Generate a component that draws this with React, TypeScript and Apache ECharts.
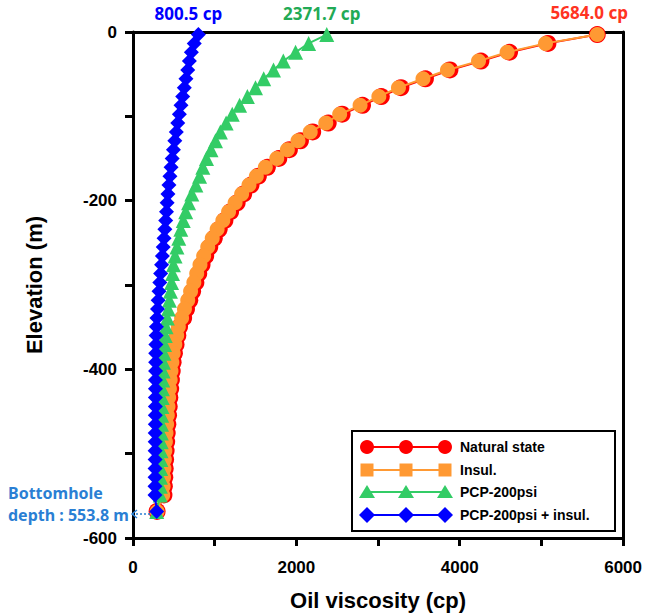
import React, { useEffect, useRef } from "react";
import * as echarts from "echarts";

// Elevation (m) of each computed point
const elevation = [
  -3, -13.5, -24, -34.5, -45, -55.5, -66, -76.5, -87, -97.5,
  -108, -118.5, -129, -139.5, -150, -160.5, -171, -181.5, -192, -202.5,
  -213, -223.5, -234, -244.5, -255, -265.5, -276, -286.5, -297, -307.5,
  -318, -328.5, -339, -349.5, -360, -370.5, -381, -391.5, -402, -412.5,
  -423, -433.5, -444, -454.5, -465, -475.5, -486, -496.5, -507, -517.5,
  -528, -538.5, -549, -568.5,
];

// Oil viscosity (cp)
const naturalState = [
  5684, 5080, 4610, 4260, 3880, 3580, 3280, 3040, 2810, 2560,
  2390, 2200, 2050, 1915, 1785, 1645, 1535, 1445, 1355, 1275,
  1195, 1125, 1055, 995, 940, 890, 845, 805, 770, 730,
  695, 655, 620, 570, 549, 527, 507, 491, 480, 470,
  461, 451, 443, 435, 427, 419, 412, 405, 399, 394,
  389, 384, 379, 295,
];
const insul = [
  5684, 5050, 4580, 4230, 3850, 3550, 3250, 3010, 2780, 2530,
  2360, 2170, 2020, 1890, 1760, 1620, 1510, 1420, 1330, 1250,
  1170, 1100, 1030, 970, 915, 865, 820, 780, 745, 705,
  670, 630, 595, 555, 535, 512, 492, 476, 465, 455,
  446, 436, 428, 420, 412, 404, 397, 390, 384, 379,
  374, 369, 364, 295,
];
const pcp200 = [
  2371.7, 2150, 1990, 1840, 1720, 1600, 1500, 1400, 1305, 1215,
  1140, 1070, 1010, 955, 900, 855, 815, 770, 720, 680,
  645, 615, 585, 560, 538, 515, 495, 484, 472, 458,
  445, 432, 420, 405, 395, 386, 379, 373, 368, 364,
  360, 357, 354, 351, 349, 347, 345, 343, 341, 339,
  337, 335, 333, 290,
];
const pcp200Insul = [
  800.5, 750, 715, 690, 670, 648, 628, 608, 588, 568,
  548, 530, 512, 495, 480, 466, 452, 440, 428, 418,
  410, 400, 390, 380, 370, 360, 350, 338, 328, 318,
  308, 300, 293, 287, 283, 280, 278, 277, 276, 275,
  275, 274, 274, 273, 273, 272, 272, 271, 271, 270,
  270, 269, 269, 290,
];

const seriesNames = ["Natural state", "Insul.", "PCP-200psi", "PCP-200psi + insul."];
const xTicks = [0, 2000, 4000, 6000];
const topLabels = ["5684.0 cp", "", "2371.7 cp", "800.5 cp"];

const RED = "#FF0000";
const ORANGE = "#FF9933";
const GREEN = "#33CC66";
const BLUE = "#0000FF";

function buildData(vals: number[], label: string, color: string, dx: number) {
  return vals.map((v, i) => {
    if (i === 0 && label) {
      return {
        value: [v, elevation[i]],
        label: {
          show: true,
          position: "top",
          distance: 5,
          offset: [dx, 0],
          formatter: label,
          color,
          fontSize: 17,
          fontWeight: "bold",
          fontFamily: "Noto Sans",
        },
      };
    }
    return { value: [v, elevation[i]] };
  });
}

export default function App() {
  const ref = useRef<HTMLDivElement>(null);
  useEffect(() => {
    const chart = echarts.init(ref.current!, null, { renderer: "svg" });
    const axisFont = { fontFamily: "Liberation Sans", fontWeight: "bold" as const, color: "#000" };
    const legendRows = [447, 470, 492, 515];
    const legendColors = [RED, ORANGE, GREEN, BLUE];
    const markerX = [367, 406, 445];
    const legendGraphics: any[] = [
      {
        type: "rect",
        shape: { x: 352, y: 431, width: 263, height: 100 },
        style: { fill: "#fff", stroke: "#000", lineWidth: 2 },
        z: 100,
      },
    ];
    legendRows.forEach((y, r) => {
      const c = legendColors[r];
      legendGraphics.push({
        type: "line",
        shape: { x1: markerX[0], y1: y, x2: markerX[2], y2: y },
        style: { stroke: c, lineWidth: 2 },
        z: 101,
      });
      markerX.forEach((x) => {
        let el: any;
        if (r === 0) el = { type: "circle", shape: { cx: x, cy: y, r: 7 } };
        else if (r === 1) el = { type: "rect", shape: { x: x - 6.5, y: y - 6.5, width: 13, height: 13 } };
        else if (r === 2)
          el = { type: "polygon", shape: { points: [[x, y - 7], [x + 8, y + 6], [x - 8, y + 6]] } };
        else el = { type: "polygon", shape: { points: [[x, y - 8], [x + 8, y], [x, y + 8], [x - 8, y]] } };
        el.style = { fill: c };
        el.z = 102;
        legendGraphics.push(el);
      });
      legendGraphics.push({
        type: "text",
        x: 460,
        y: y,
        style: {
          text: seriesNames[r],
          fill: "#000",
          font: "bold 14px 'Liberation Sans'",
          verticalAlign: "middle",
          textAlign: "left",
        },
        z: 102,
      });
    });

    const annotation: any[] = [
      {
        type: "text",
        x: 8,
        y: 493,
        style: {
          text: "Bottomhole",
          fill: "#2A7FD4",
          font: "bold 16px 'Noto Sans'",
          verticalAlign: "middle",
        },
      },
      {
        type: "text",
        x: 8,
        y: 515,
        style: {
          text: "depth : 553.8 m",
          fill: "#2A7FD4",
          font: "bold 16px 'Noto Sans'",
          verticalAlign: "middle",
        },
      },
      {
        type: "line",
        shape: { x1: 132, y1: 514, x2: 152, y2: 514 },
        style: { stroke: "#2A7FD4", lineWidth: 1.5, lineDash: [2, 2] },
        z: 50,
      },
      {
        type: "polyline",
        shape: { points: [[137, 510], [132, 514], [137, 518]] },
        style: { stroke: "#2A7FD4", lineWidth: 1.5, fill: null },
        z: 50,
      },
    ];

    const mkSeries = (
      idx: number,
      vals: number[],
      symbol: string,
      size: number,
      color: string,
      z: number,
      dx: number
    ) => ({
      type: "line",
      name: seriesNames[idx],
      data: buildData(vals, topLabels[idx], idx === 0 ? "#FF3322" : color === GREEN ? "#22AA55" : color, dx),
      symbol,
      symbolSize: size,
      showSymbol: true,
      clip: false,
      itemStyle: { color },
      lineStyle: { color, width: 2 },
      label: { show: false },
      z,
    });

    chart.setOption({
      animation: false,
      grid: { left: 133, right: 20, top: 32, bottom: 75, containLabel: false },
      xAxis: [
        {
          type: "value",
          position: "bottom",
          min: 0,
          max: 6000,
          interval: 1000,
          axisLine: { show: true, onZero: false, lineStyle: { color: "#000", width: 3 } },
          axisTick: { show: true, inside: false, length: 8, lineStyle: { color: "#000", width: 3 } },
          axisLabel: {
            ...axisFont,
            fontSize: 17,
            margin: 21,
            formatter: (v: number) => (xTicks.includes(v) ? String(v) : ""),
          },
          splitLine: { show: false },
          name: "Oil viscosity (cp)",
          nameLocation: "middle",
          nameGap: 51,
          nameTextStyle: { ...axisFont, fontSize: 22 },
        },
        {
          type: "value",
          position: "top",
          min: 0,
          max: 6000,
          axisLine: { show: true, onZero: false, lineStyle: { color: "#000", width: 3 } },
          axisTick: { show: false },
          axisLabel: { show: false },
          splitLine: { show: false },
        },
      ],
      yAxis: [
        {
          type: "value",
          position: "left",
          min: -600,
          max: 0,
          interval: 100,
          axisLine: { show: true, onZero: false, lineStyle: { color: "#000", width: 3 } },
          axisTick: { show: true, inside: false, length: 8, lineStyle: { color: "#000", width: 3 } },
          axisLabel: {
            ...axisFont,
            fontSize: 17,
            margin: 16,
            formatter: (v: number) => (v % 200 === 0 ? String(v) : ""),
          },
          splitLine: { show: false },
          name: "Elevation (m)",
          nameLocation: "middle",
          nameGap: 88,
          nameRotate: 90,
          nameTextStyle: { ...axisFont, fontSize: 22 },
        },
        {
          type: "value",
          position: "right",
          min: -600,
          max: 0,
          axisLine: { show: true, onZero: false, lineStyle: { color: "#000", width: 3 } },
          axisTick: { show: false },
          axisLabel: { show: false },
          splitLine: { show: false },
        },
      ],
      series: [
        mkSeries(0, naturalState, "circle", 17, RED, 2, -8),
        mkSeries(1, insul, "circle", 15, ORANGE, 3, 0),
        mkSeries(2, pcp200, "triangle", 15, GREEN, 4, -5),
        mkSeries(3, pcp200Insul, "diamond", 15, BLUE, 5, -10),
      ],
      graphic: [...annotation, ...legendGraphics],
    });
    return () => chart.dispose();
  }, []);
  return (
    <div
      ref={ref}
      style={{ position: "absolute", left: 0, top: 0, width: 645, height: 616, background: "#fff" }}
    />
  );
}
